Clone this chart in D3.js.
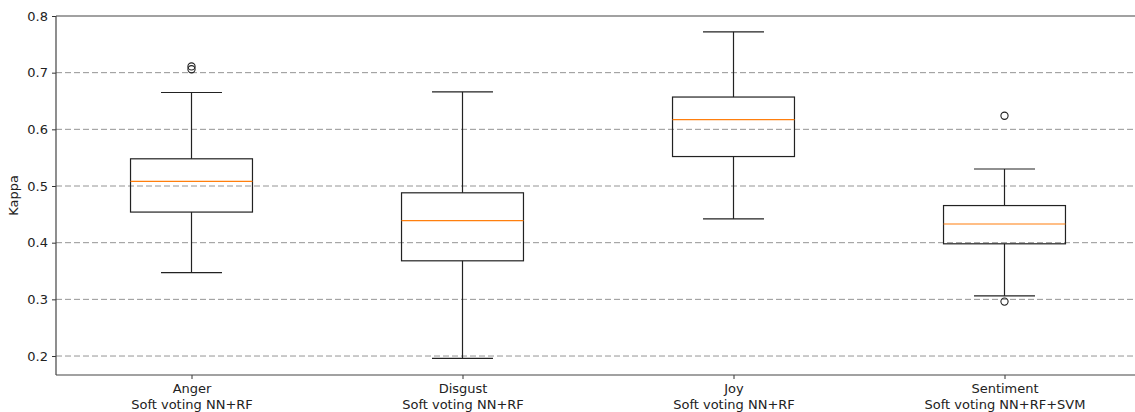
<!DOCTYPE html>
<html><head><meta charset="utf-8">
<script src="https://cdn.jsdelivr.net/npm/d3@7"></script>
<style>body{margin:0;background:#fff}svg{display:block}text{font-family:"DejaVu Sans",sans-serif;fill:#222}</style>
</head><body><svg id="c" width="1135" height="412"></svg>
<script>
const categories = ["Anger\nSoft voting NN+RF","Disgust\nSoft voting NN+RF","Joy\nSoft voting NN+RF","Sentiment\nSoft voting NN+RF+SVM"];
const whiskerLow = [0.347, 0.196, 0.442, 0.306];
const q1 = [0.454, 0.368, 0.552, 0.398];
const median = [0.508, 0.439, 0.617, 0.433];
const q3 = [0.548, 0.488, 0.657, 0.4655];
const whiskerHigh = [0.665, 0.666, 0.772, 0.530];
const outliers = [[0.711, 0.706], [], [], [0.624, 0.296]];
const yTicks = [0.2, 0.3, 0.4, 0.5, 0.6, 0.7, 0.8];

const svg = d3.select("#c");
const m = {left:56, right:-5, top:16, bottom:37};
const W = 1135, H = 412;
const x = d3.scaleLinear().domain([0.5, 4.5]).range([m.left, W - m.right]);
const y = d3.scaleLinear().domain([0.1665, 0.8]).range([H - m.bottom, m.top]);

// grid
svg.append("g").selectAll("line").data(yTicks.filter(t=>t<0.8)).join("line")
  .attr("x1", m.left).attr("x2", W).attr("y1", d=>y(d)).attr("y2", d=>y(d))
  .attr("stroke","#888").attr("stroke-width",0.9).attr("stroke-dasharray","6,3");

const bw = 0.45, cw = 0.225;
const g = svg.append("g");
categories.forEach((c,i)=>{
  const p = i+1;
  const cx = x(p);
  const ln = (x1,y1,x2,y2,col)=>g.append("line").attr("x1",x1).attr("y1",y1).attr("x2",x2).attr("y2",y2).attr("stroke",col||"#222").attr("stroke-width",1.2);
  ln(cx, y(q3[i]), cx, y(whiskerHigh[i]));
  ln(cx, y(q1[i]), cx, y(whiskerLow[i]));
  ln(x(p-cw/2), y(whiskerHigh[i]), x(p+cw/2), y(whiskerHigh[i]));
  ln(x(p-cw/2), y(whiskerLow[i]), x(p+cw/2), y(whiskerLow[i]));
  g.append("rect").attr("x", x(p-bw/2)).attr("y", y(q3[i])).attr("width", x(p+bw/2)-x(p-bw/2)).attr("height", y(q1[i])-y(q3[i]))
    .attr("fill","none").attr("stroke","#222").attr("stroke-width",1.2);
  ln(x(p-bw/2), y(median[i]), x(p+bw/2), y(median[i]), "#ff7f0e");
  outliers[i].forEach(o=>g.append("circle").attr("cx",cx).attr("cy",y(o)).attr("r",3.6).attr("fill","none").attr("stroke","#222").attr("stroke-width",1.1));
});

// axes
const ya = svg.append("g").attr("transform",`translate(${m.left},0)`)
  .call(d3.axisLeft(y).tickValues(yTicks).tickFormat(d3.format(".1f")).tickSize(4).tickPadding(4));
ya.select(".domain").remove();
ya.selectAll("text").attr("font-size",13).attr("fill","#222");
ya.selectAll("line").attr("stroke","#333");
const xa = svg.append("g").attr("transform",`translate(0,${H-m.bottom})`)
  .call(d3.axisBottom(x).tickValues([1,2,3,4]).tickFormat("").tickSize(4));
xa.select(".domain").remove();
xa.selectAll("line").attr("stroke","#333");
xa.selectAll(".tick").each(function(d){
  const lines = categories[d-1].split("\n");
  const t = d3.select(this).append("text").attr("text-anchor","middle").attr("font-size",13).attr("fill","#222");
  lines.forEach((l,k)=>t.append("tspan").attr("x",0).attr("y",18+k*15.5).text(l));
});
// spines
svg.append("line").attr("x1",m.left).attr("x2",m.left).attr("y1",m.top).attr("y2",H-m.bottom).attr("stroke","#444").attr("stroke-width",1.2);
svg.append("line").attr("x1",m.left).attr("x2",W).attr("y1",H-m.bottom).attr("y2",H-m.bottom).attr("stroke","#444").attr("stroke-width",1.2);
svg.append("line").attr("x1",m.left).attr("x2",W).attr("y1",m.top).attr("y2",m.top).attr("stroke","#444").attr("stroke-width",1.2);
svg.append("text").attr("transform",`translate(18,${(m.top+H-m.bottom)/2}) rotate(-90)`).attr("text-anchor","middle").attr("font-size",13).text("Kappa");
</script></body></html>
